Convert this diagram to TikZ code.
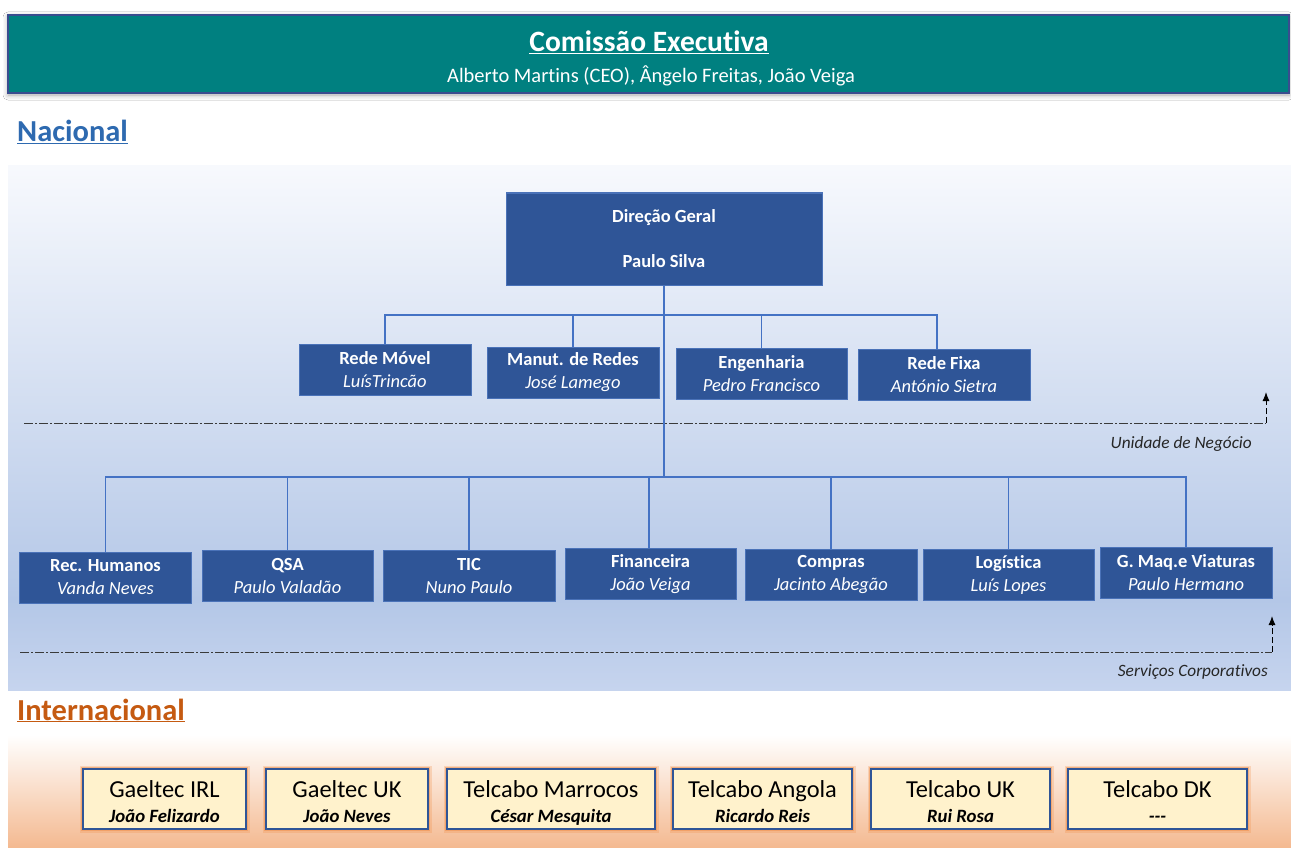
\documentclass[tikz,border=0pt]{standalone}
\usepackage{fontspec}
\setmainfont{Carlito}[Ligatures={NoCommon}]
\usetikzlibrary{arrows.meta,calc,shadows.blur}
\definecolor{tealc}{HTML}{008080}
\definecolor{bannerb}{HTML}{3A4D8F}
\definecolor{nacfill}{HTML}{2F5597}
\definecolor{nacbord}{HTML}{4A72B8}
\definecolor{connc}{HTML}{4472C4}
\definecolor{nacA}{HTML}{F7F9FD}
\definecolor{nacB}{HTML}{B4C7E7}
\definecolor{nacC}{HTML}{C6D4EE}
\definecolor{nactxt}{HTML}{2E6AB0}
\definecolor{inttxt}{HTML}{C55A11}
\definecolor{intA}{HTML}{FFFFFF}
\definecolor{intB}{HTML}{F4B990}
\definecolor{ifill}{HTML}{FFF2CC}
\definecolor{ibord}{HTML}{2F5597}
\definecolor{glowc}{HTML}{F08A40}
\definecolor{linec}{HTML}{3A3A3A}
\begin{document}
\begin{tikzpicture}[x=1pt,y=-1pt,
  nbox/.style={draw=nacbord, fill=nacfill, line width=1pt, text=white, align=center,
    inner sep=0pt, minimum height=51pt, font=\fontsize{18.5}{23}\selectfont},
  ibox/.style={draw=ibord, fill=ifill, line width=1.6pt, align=center, inner sep=0pt,
    minimum height=60pt, font=\fontsize{24.4}{25.5}\selectfont,
    preaction={draw=glowc, line width=7pt, draw opacity=0.25},
    preaction={draw=glowc, line width=4pt, draw opacity=0.45}},
  conn/.style={draw=connc, line width=1.2pt},
  trunk/.style={draw=connc, line width=2pt},
  dashdotline/.style={draw=linec, line width=1pt, dash pattern=on 9pt off 2pt on 2pt off 2pt},
  uparrow/.style={draw=black, line width=1pt, dash pattern=on 6pt off 3pt, -{Latex[length=9pt,width=7pt]}},
  heading/.style={font=\fontsize{30.5}{36}\selectfont\bfseries, anchor=base west, inner sep=0pt},
  note/.style={font=\fontsize{17.3}{20}\selectfont\itshape, anchor=base east, inner sep=0pt, text=black!85}]
\useasboundingbox (0,0) rectangle (1291,848);
\fill[white] (0,0) rectangle (1291,848);

% panels
\shade[top color=nacA, bottom color=nacB] (8,166) rectangle (1291,600);
\shade[top color=nacB, bottom color=nacC] (8,599.5) rectangle (1291,690);
\shade[top color=intA, bottom color=intB] (8,735) rectangle (1291,848);

% banner
\node[draw=bannerb, fill=tealc, line width=1.5pt, minimum width=1281pt, minimum height=78pt,
  inner sep=0pt, blur shadow={shadow xshift=0pt, shadow yshift=-2pt, shadow blur radius=5pt, shadow opacity=35}]
  (banner) at (648.5,54) {};
\node[font=\fontsize{29.5}{34}\selectfont\bfseries, text=white, anchor=base, inner sep=0pt] (cet) at (649,52)
  {\underline{Comissão Executiva}};
\node[font=\fontsize{20.5}{24}\selectfont, text=white, anchor=base, inner sep=0pt] (ces) at (651,83)
  {Alberto Martins (CEO), Ângelo Freitas, João Veiga};

% headings
\node[heading, text=nactxt] (nac) at (17,142) {\underline{Nacional}};
\node[heading, text=inttxt] (intl) at (17,720) {\underline{Internacional}};

% Direcao geral
\node[nbox, minimum width=316pt, minimum height=92pt] (dg) at (664,239)
  {\textbf{Direção Geral}\\[22pt]\textbf{Paulo Silva}};

% business units
\node[nbox, minimum width=172pt] (rm) at (385,369.5) {\textbf{Rede Móvel}\\\textit{LuísTrincão}};
\node[nbox, minimum width=172pt] (mr) at (573,372.5) {\textbf{Manut. de Redes}\\\textit{José Lamego}};
\node[nbox, minimum width=171pt] (en) at (761.5,373.5) {\textbf{Engenharia}\\\textit{Pedro Francisco}};
\node[nbox, minimum width=172pt] (rf) at (944,375) {\textbf{Rede Fixa}\\\textit{António Sietra}};

% corporate services
\node[nbox, minimum width=172pt] (rh) at (105.5,577.5) {\textbf{Rec. Humanos}\\\textit{Vanda Neves}};
\node[nbox, minimum width=171pt] (qsa) at (287.5,575.5) {\textbf{QSA}\\\textit{Paulo Valadão}};
\node[nbox, minimum width=172pt] (tic) at (469,575.5) {\textbf{TIC}\\\textit{Nuno Paulo}};
\node[nbox, minimum width=171pt] (fin) at (650.5,574) {\textbf{Financeira}\\\textit{João Veiga}};
\node[nbox, minimum width=172pt] (com) at (831,574.5) {\textbf{Compras}\\\textit{Jacinto Abegão}};
\node[nbox, minimum width=171pt] (log) at (1008.5,574.5) {\textbf{Logística}\\\textit{Luís Lopes}};
\node[nbox, minimum width=172pt] (gmv) at (1186,573) {\textbf{G. Maq.e Viaturas}\\\textit{Paulo Hermano}};

% connectors
\coordinate (ub) at (664,315);
\coordinate (lb) at (664,477);
\draw[conn] (rm.north) |- (ub);
\draw[conn] (mr.north) |- (ub);
\draw[conn] (en.north) |- (ub);
\draw[conn] ($(rf.north)+(-7,0)$) |- (ub);
\draw[conn] (rh.north) |- (lb);
\draw[conn] (qsa.north) |- (lb);
\draw[conn] (tic.north) |- (lb);
\draw[conn] ($(fin.north)+(-1.5,0)$) |- (lb);
\draw[conn] (com.north) |- (lb);
\draw[conn] (log.north) |- (lb);
\draw[conn] (gmv.north) |- (lb);
\draw[trunk] (dg.south) -- (lb);

% separators
\coordinate (s1a) at (24,423);
\coordinate (s1b) at (1266,423);
\coordinate (s1t) at (1266,392);
\draw[dashdotline] (s1a) -- (s1b);
\draw[uparrow] (s1b) -- (s1t);
\node[note] (un) at (1252,448) {Unidade de Negócio};

\coordinate (s2a) at (20,652);
\coordinate (s2b) at (1272,652);
\coordinate (s2t) at (1272,616);
\draw[dashdotline] (s2a) -- (s2b);
\draw[uparrow] (s2b) -- (s2t);
\node[note] (sc) at (1268,676) {Serviços Corporativos};

% international
\newcommand{\ibody}[2]{\rule{0pt}{25pt}#1\\{\fontsize{18.8}{22}\selectfont\bfseries\itshape #2\vphantom{Jq}}}
\node[ibox, minimum width=163pt] (gi) at (164.5,799) {\ibody{Gaeltec IRL}{João Felizardo}};
\node[ibox, minimum width=162pt] (gu) at (347,799) {\ibody{Gaeltec UK}{João Neves}};
\node[ibox, minimum width=208pt] (tm) at (551,799) {\ibody{Telcabo Marrocos}{César Mesquita}};
\node[ibox, minimum width=179pt] (ta) at (762.5,799) {\ibody{Telcabo Angola}{Ricardo Reis}};
\node[ibox, minimum width=179pt] (tu) at (960.5,799) {\ibody{Telcabo UK}{Rui Rosa}};
\node[ibox, minimum width=179pt] (td) at (1157.5,799) {\ibody{Telcabo DK}{-\kern0pt-\kern0pt-}};
\end{tikzpicture}
\end{document}
